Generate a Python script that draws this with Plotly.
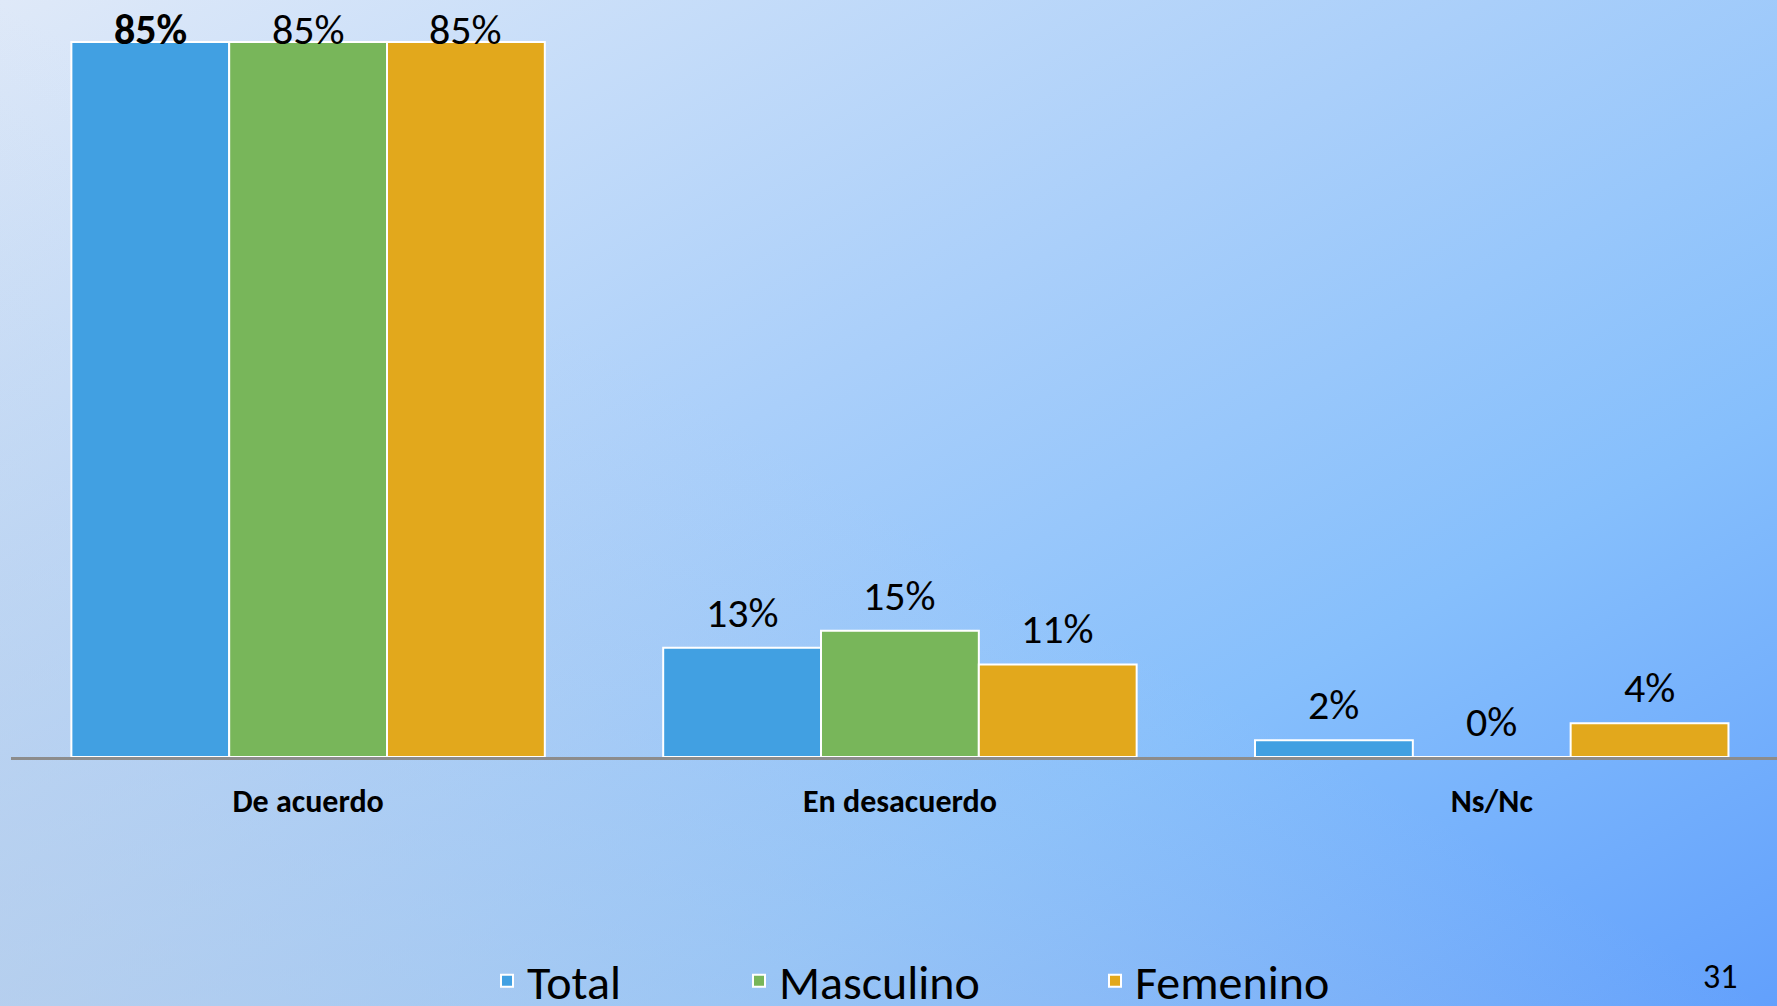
import base64
import plotly.graph_objects as go

# data -----------------------------------------------------------------------
categories = ["De acuerdo", "En desacuerdo", "Ns/Nc"]
series_names = ["Total", "Masculino", "Femenino"]
total = [85, 13, 2]
masculino = [85, 15, 0]
femenino = [85, 11, 4]
page_number = "31"

colors = ["#41a0e2", "#78b65a", "#e2a81c"]
font_family = "Calibri, Carlito, Lato, sans-serif"

W, H = 1777, 1006
bar_gap = 0.2

# background gradient (plotly has no gradient fill, so use an svg image) ------
svg = (
    f'<svg xmlns="http://www.w3.org/2000/svg" width="{W}" height="{H}" '
    f'viewBox="0 0 {W} {H}" preserveAspectRatio="none">'
    '<defs>'
    '<linearGradient id="g" x1="0" y1="0" x2="1" y2="1">'
    '<stop offset="0" stop-color="#dfe9f8"/>'
    '<stop offset="0.42" stop-color="#aacffa"/>'
    '<stop offset="0.7" stop-color="#86bffc"/>'
    '<stop offset="1" stop-color="#62a0fc"/>'
    '</linearGradient>'
    '<linearGradient id="g2" x1="0" y1="1" x2="1" y2="0">'
    '<stop offset="0" stop-color="#c4d2e6" stop-opacity="0.6"/>'
    '<stop offset="0.5" stop-color="#c4d2e6" stop-opacity="0"/>'
    '</linearGradient>'
    '</defs>'
    f'<rect width="{W}" height="{H}" fill="url(#g)"/>'
    f'<rect width="{W}" height="{H}" fill="url(#g2)"/>'
    '</svg>'
)
bg_src = "data:image/svg+xml;base64," + base64.b64encode(svg.encode()).decode()

# figure ---------------------------------------------------------------------
fig = go.Figure()
all_values = [total, masculino, femenino]
legend_ids = ["legend", "legend2", "legend3"]
for name, vals, col, lg in zip(series_names, all_values, colors, legend_ids):
    fig.add_trace(go.Bar(
        x=categories, y=vals, name=name, legend=lg,
        marker=dict(color=col, line=dict(color="white", width=2)),
        hoverinfo="skip",
    ))

# value labels, placed above each bar
plot_w = W - 11
x_lo, x_hi = -0.502, 2.482
unit_px = plot_w / (x_hi - x_lo)
bar_px = unit_px * (1 - bar_gap) / 3
for j, vals in enumerate(all_values):
    for i, v in enumerate(vals):
        txt = f"{v}%"
        if i == 0 and j == 0:
            txt = f"<b>{txt}</b>"
        fig.add_annotation(
            x=categories[i], y=v, xref="x", yref="y",
            text=txt, showarrow=False,
            xshift=(j - 1) * bar_px,
            yanchor="bottom", yshift=8 if v < 80 else -15,
            font=dict(family=font_family, size=42, color="black"),
        )

fig.add_annotation(
    x=1720 / W, y=1 - 976 / H, xref="paper", yref="paper",
    xanchor="center", yanchor="middle",
    text=page_number, showarrow=False,
    font=dict(family=font_family, size=34, color="black"),
)

legend_style = dict(orientation="h", y=1 - 981 / H, yanchor="middle", xanchor="left",
                    font=dict(family=font_family, size=48, color="black"),
                    bgcolor="rgba(0,0,0,0)")
fig.update_layout(
    width=W, height=H,
    margin=dict(l=0, r=0, t=0, b=0, autoexpand=False),
    paper_bgcolor="#a8cdf8",
    plot_bgcolor="rgba(0,0,0,0)",
    barmode="group", bargap=bar_gap, bargroupgap=0,
    images=[dict(source=bg_src, xref="paper", yref="paper", x=0, y=1,
                 sizex=1, sizey=1, sizing="stretch", layer="below")],
    legend=dict(x=(488 - 1) / W, **legend_style),
    legend2=dict(x=(740 - 1) / W, **legend_style),
    legend3=dict(x=(1096 - 1) / W, **legend_style),
    showlegend=True,
)
fig.update_xaxes(
    domain=[11 / W, 1], range=[x_lo, x_hi],
    showline=True, linecolor="#8c8c8c", linewidth=2.5,
    showgrid=False, ticks="", ticklabelstandoff=14,
    tickfont=dict(family=font_family, size=32, color="black", weight="bold"),
)
fig.update_yaxes(
    domain=[249 / H, 1], range=[0, 90],
    visible=False, showgrid=False, zeroline=False,
)

fig.write_html("out.html", config={"displayModeBar": False},
               post_script="document.body.style.margin = '0';")
